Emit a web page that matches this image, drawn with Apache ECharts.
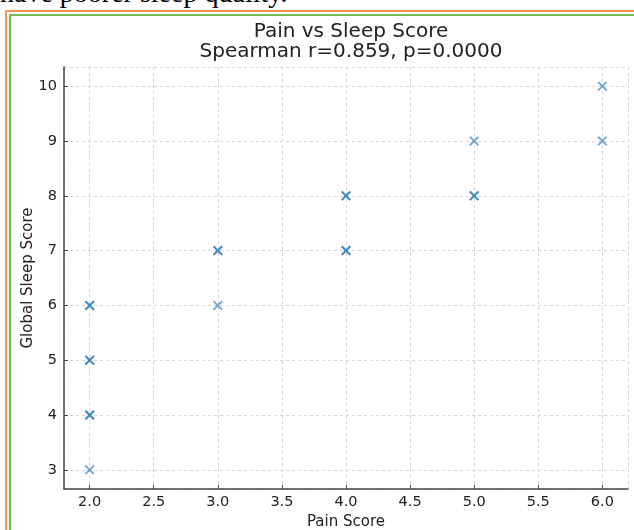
<!DOCTYPE html>
<html>
<head>
<meta charset="utf-8">
<script src="https://cdn.jsdelivr.net/npm/echarts@6/dist/echarts.min.js"></script>
<style>
  html, body { margin: 0; padding: 0; background: #fff; overflow: hidden; }
  #page { position: relative; width: 634px; height: 530px; overflow: hidden; }
  #lead { position: absolute; left: 0; top: -23px; font: 28px "Liberation Serif", serif; color: #000; white-space: nowrap; }
  #outer { position: absolute; left: 5px; top: 10px; width: 700px; height: 600px; border: 2px solid #f79646; border-right: none; border-bottom: none; }
  #inner { position: absolute; left: 9px; top: 14px; width: 700px; height: 600px; border: 2px solid #77bb55; border-right: none; border-bottom: none; }
  #chart { position: absolute; left: 0; top: 0; width: 634px; height: 530px; }
</style>
</head>
<body>
<div id="page">
  <div id="lead">have poorer sleep quality.</div>
  <div id="outer"></div>
  <div id="inner"></div>
  <div id="chart"></div>
</div>
<script>
// pain score vs global sleep score (repeated pairs drawn twice, so they look darker)
var painScores = [2, 2, 2, 2, 2, 2, 2, 3, 3, 3, 4, 4, 4, 4, 5, 5, 5, 6, 6];
var sleepScores = [6, 6, 5, 5, 4, 4, 3, 7, 7, 6, 8, 8, 7, 7, 9, 8, 8, 10, 9];

var chartTitle = "Pain vs Sleep Score";
var chartSubtitle = "Spearman r=0.859, p=0.0000";

var points = painScores.map(function (p, i) { return [p, sleepScores[i]]; });

var myChart = echarts.init(document.getElementById("chart"));
var font = "DejaVu Sans";
var crossPath = "path://M0,1.4L1.4,0L5,3.6L8.6,0L10,1.4L6.4,5L10,8.6L8.6,10L5,6.4L1.4,10L0,8.6L3.6,5Z";

var option = {
  backgroundColor: "transparent",
  animation: false,
  title: {
    text: chartTitle + "\n" + chartSubtitle,
    left: 346,
    textAlign: "center",
    top: 17,
    textStyle: { fontFamily: font, fontSize: 20, fontWeight: "normal", color: "#222", lineHeight: 20 }
  },
  grid: { left: 64, right: 6, top: 67, bottom: 41, outerBoundsMode: "none", containLabel: false },
  xAxis: {
    type: "value",
    min: 1.8,
    max: 6.2,
    minInterval: 0.5,
    maxInterval: 0.5,
    name: "Pain Score",
    nameLocation: "middle",
    nameGap: 26,
    nameMoveOverlap: false,
    nameTextStyle: { fontFamily: font, fontSize: 15, color: "#222" },
    axisLine: { lineStyle: { color: "#444", width: 1.5 } },
    axisTick: { show: true, inside: true, length: 4, lineStyle: { color: "#444" } },
    axisLabel: {
      fontFamily: font, fontSize: 14.5, color: "#222", margin: 6,
      showMinLabel: false, showMaxLabel: false,
      formatter: function (v) { return v.toFixed(1); }
    },
    splitLine: { show: true, lineStyle: { color: "#d4d4d4", type: [3, 3], width: 1 } }
  },
  yAxis: {
    type: "value",
    min: 2.65,
    max: 10.35,
    minInterval: 1,
    maxInterval: 1,
    name: "Global Sleep Score",
    nameLocation: "middle",
    nameGap: 28,
    nameMoveOverlap: false,
    nameTextStyle: { fontFamily: font, fontSize: 15, color: "#222" },
    axisLine: { show: true, lineStyle: { color: "#444", width: 1.5 } },
    axisTick: { show: true, inside: true, length: 4, lineStyle: { color: "#444" } },
    axisLabel: {
      fontFamily: font, fontSize: 14.5, color: "#222", margin: 7,
      showMinLabel: false, showMaxLabel: false
    },
    splitLine: { show: true, lineStyle: { color: "#d4d4d4", type: [3, 3], width: 1 } }
  },
  series: [
    {
      type: "scatter",
      data: points,
      symbol: crossPath,
      symbolSize: 10,
      itemStyle: { color: "#1f77b4", opacity: 0.6 }
    }
  ]
};

myChart.setOption(option);
</script>
</body>
</html>
